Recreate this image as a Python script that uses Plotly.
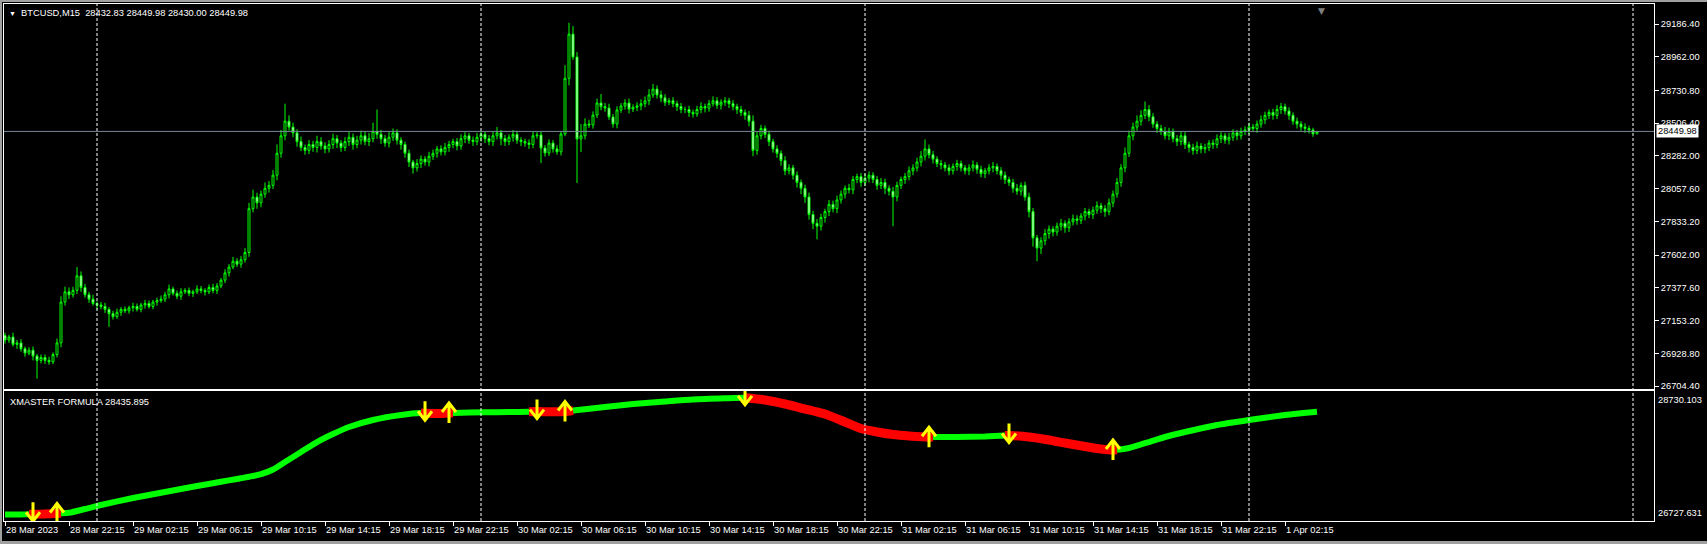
import pandas as pd
import plotly.graph_objects as go

# ---------------- data ----------------
start_time = "2023-03-28 18:15"
first_open = 27050

close = [
    27020, 27040, 26990, 27000, 26960, 26930, 26950, 26910, 26880, 26900,
    26880, 26870, 26920, 27000, 27280, 27350, 27330, 27360, 27460, 27380,
    27330, 27300, 27270, 27260, 27250, 27230, 27200, 27180, 27210, 27230,
    27220, 27240, 27250, 27230, 27260, 27270, 27250, 27280, 27290, 27300,
    27330, 27370, 27340, 27320, 27350, 27360, 27340, 27350, 27370, 27360,
    27350, 27380, 27360, 27390, 27430, 27480, 27520, 27560, 27540, 27570,
    27620, 27920, 28000, 27960, 28020, 28060, 28080, 28150, 28300, 28420,
    28520, 28480, 28440, 28380, 28340, 28320, 28360, 28340, 28380, 28350,
    28330, 28360, 28400, 28370, 28340, 28380, 28410, 28360, 28390, 28420,
    28380, 28400, 28450, 28430, 28400, 28370, 28410, 28440, 28390, 28360,
    28300, 28240, 28200, 28230, 28260, 28240, 28280, 28300, 28330, 28310,
    28340, 28360, 28380, 28350, 28400, 28420, 28390, 28380, 28410, 28430,
    28400, 28380, 28420, 28440, 28400, 28380, 28410, 28430, 28390, 28380,
    28370, 28360, 28420, 28425, 28336, 28302, 28370, 28330, 28310, 28432,
    28814, 29117, 28960, 28398, 28420, 28500, 28494, 28562, 28645, 28620,
    28610, 28549, 28501, 28597, 28624, 28645, 28603, 28615, 28625, 28640,
    28660, 28700, 28740, 28700, 28680, 28650, 28660, 28640, 28620, 28600,
    28600, 28580, 28570, 28600, 28620, 28610, 28640, 28660, 28630, 28650,
    28660, 28640, 28620, 28600, 28580, 28560, 28520, 28320, 28420, 28470,
    28430, 28380, 28330, 28300, 28250, 28180, 28200, 28150, 28100, 28060,
    28000, 27880, 27820, 27800, 27860, 27900, 27950, 27920, 27980, 28020,
    28060, 28050, 28120, 28140, 28100, 28130, 28150, 28120, 28080, 28100,
    28060, 28040, 28000, 28080, 28120, 28140, 28180, 28200, 28240, 28280,
    28330, 28290, 28260, 28230, 28220, 28200, 28180, 28210, 28230, 28200,
    28180, 28200, 28220, 28190, 28160, 28180, 28200, 28210, 28180, 28150,
    28120, 28100, 28060, 28040, 28080, 28000, 27900, 27720, 27650, 27700,
    27750, 27780, 27760, 27800, 27820, 27790, 27830, 27850, 27840, 27870,
    27900, 27880, 27910, 27940, 27920, 27900, 27960, 28020, 28100, 28200,
    28300, 28420, 28480, 28520, 28560, 28600, 28550, 28500, 28470, 28450,
    28420, 28450, 28400, 28380, 28420, 28360, 28340, 28320, 28350, 28330,
    28340, 28370, 28360, 28400, 28420, 28390, 28410, 28440, 28420, 28450,
    28460, 28480, 28470, 28500, 28530, 28560, 28580, 28560, 28600, 28620,
    28590, 28560, 28520, 28500, 28480, 28470, 28460, 28432.83, 28449.98,
]

up_wick = [
    20, 15, 30, 20, 25, 15, 20, 25, 15, 20,
    20, 25, 15, 30, 40, 35, 30, 25, 60, 30,
    25, 20, 30, 15, 20, 25, 15, 20, 25, 15,
    20, 15, 25, 20, 15, 25, 20, 15, 20, 25,
    20, 30, 15, 20, 25, 15, 20, 15, 25, 20,
    15, 20, 25, 20, 15, 25, 20, 30, 20, 25,
    30, 40, 50, 30, 25, 40, 30, 35, 60, 40,
    120, 40, 30, 25, 35, 20, 30, 25, 40, 30,
    25, 30, 35, 25, 20, 30, 40, 25, 30, 35,
    30, 40, 60, 150, 30, 25, 35, 30, 25, 20,
    20, 25, 15, 30, 25, 20, 30, 25, 20, 25,
    30, 25, 20, 25, 30, 25, 20, 25, 30, 25,
    20, 25, 30, 40, 20, 25, 20, 30, 25, 20,
    20, 25, 30, 20, 25, 20, 25, 20, 25, 20,
    90, 78, 55, 34, 80, 40, 30, 25, 30, 61,
    25, 30, 20, 25, 20, 25, 30, 20, 25, 30,
    30, 40, 35, 25, 30, 25, 20, 25, 20, 25,
    20, 25, 20, 25, 30, 20, 25, 30, 25, 20,
    25, 20, 25, 20, 25, 20, 30, 40, 30, 25,
    20, 25, 20, 25, 20, 30, 25, 20, 25, 20,
    25, 30, 25, 30, 25, 20, 30, 25, 30, 25,
    20, 30, 25, 20, 25, 30, 25, 20, 25, 30,
    25, 20, 30, 25, 20, 25, 30, 25, 30, 35,
    65, 30, 25, 20, 25, 20, 25, 20, 25, 20,
    20, 25, 30, 20, 25, 20, 25, 30, 20, 25,
    25, 20, 25, 30, 20, 25, 30, 25, 20, 25,
    30, 25, 20, 25, 30, 20, 25, 30, 25, 20,
    25, 20, 25, 30, 20, 25, 30, 25, 30, 25,
    40, 35, 30, 40, 35, 55, 30, 25, 20, 25,
    30, 25, 20, 25, 30, 25, 20, 25, 30, 20,
    25, 20, 25, 30, 25, 20, 30, 25, 20, 25,
    25, 30, 20, 25, 30, 25, 20, 25, 30, 25,
    20, 25, 20, 25, 20, 25, 20, 15, 0,
]

dn_wick = [
    25, 20, 15, 30, 20, 25, 15, 30, 125, 20,
    25, 20, 15, 20, 30, 25, 30, 20, 25, 30,
    20, 25, 15, 30, 20, 25, 90, 20, 15, 25,
    15, 20, 25, 15, 20, 25, 15, 20, 25, 15,
    20, 25, 15, 20, 25, 15, 20, 25, 15, 20,
    25, 15, 20, 25, 15, 20, 25, 15, 20, 25,
    20, 30, 25, 40, 30, 25, 30, 25, 35, 30,
    30, 25, 30, 35, 25, 30, 25, 30, 35, 25,
    30, 25, 30, 35, 30, 25, 30, 35, 25, 30,
    25, 30, 25, 30, 35, 25, 30, 25, 30, 35,
    30, 35, 40, 25, 30, 25, 30, 25, 30, 25,
    25, 30, 25, 30, 25, 30, 25, 30, 25, 30,
    30, 25, 30, 25, 45, 30, 25, 30, 25, 30,
    25, 30, 25, 20, 103, 25, 20, 25, 20, 25,
    15, 48, 20, 302, 90, 25, 20, 25, 20, 25,
    25, 20, 25, 30, 20, 25, 30, 20, 25, 30,
    25, 30, 20, 25, 30, 25, 20, 25, 30, 25,
    25, 30, 25, 20, 25, 30, 25, 20, 25, 30,
    25, 30, 25, 30, 25, 30, 35, 40, 30, 25,
    25, 30, 25, 30, 35, 30, 25, 30, 35, 40,
    40, 35, 40, 90, 30, 35, 30, 25, 30, 25,
    30, 25, 30, 25, 30, 25, 30, 25, 30, 25,
    40, 30, 200, 30, 25, 30, 25, 30, 25, 30,
    30, 25, 30, 25, 30, 25, 30, 25, 30, 25,
    25, 30, 25, 30, 25, 30, 25, 30, 25, 30,
    30, 25, 30, 25, 30, 25, 40, 60, 90, 40,
    30, 35, 30, 25, 30, 35, 30, 25, 30, 25,
    30, 25, 30, 25, 30, 35, 25, 30, 25, 30,
    30, 25, 30, 25, 30, 25, 30, 25, 30, 25,
    25, 30, 25, 30, 25, 30, 35, 30, 25, 30,
    30, 25, 30, 25, 30, 25, 30, 25, 30, 25,
    25, 30, 25, 30, 25, 30, 25, 30, 25, 30,
    25, 30, 25, 30, 25, 30, 25, 20, 2.83,
]

# indicator (XMASTER FORMULA) values at bar indices
ind_bars = [0, 4, 6, 7, 10, 13, 14, 16, 20, 24, 32, 40, 48, 54, 58, 61, 64, 67, 70, 74, 78, 82,
            86, 92, 99, 104, 105, 108, 111, 112, 120, 126, 131, 133, 136, 140, 142, 150,
            157, 165, 172, 180, 185, 190, 195, 199, 205, 210, 214, 218, 222, 226, 231,
            232, 238, 245, 250, 251, 256, 261, 265, 270, 274, 277, 278, 281, 286, 290,
            295, 303, 311, 320, 324, 328]
ind_vals = [26814.0, 26815.6, 26817.2, 26818.8, 26821.9, 26829.8, 26833.0, 26840.9,
            26900.8, 26963.9, 27074.2, 27168.9, 27263.5, 27330.0, 27375.0, 27410.0,
            27450.0, 27523.7,
            27642.0, 27799.7, 27957.4, 28083.5, 28193.9, 28304.3, 28383.2, 28413.1,
            28411.5, 28406.8, 28414.7, 28416.3, 28425.7, 28430.5, 28433.6, 28436.8,
            28435.2, 28438.4, 28454.1, 28509.3, 28556.6, 28596.1, 28627.6, 28646.5,
            28654.4, 28619.7, 28556.6, 28493.5, 28398.9, 28272.8, 28170.3, 28115.1,
            28075.6, 28052.0, 28033.1, 28034.6, 28036.2, 28044.1, 28058.3, 28059.9,
            28036.2, 27988.9, 27941.6, 27886.4, 27847.0, 27831.2, 27834.4, 27862.7,
            27957.4, 28036.2, 28115.1, 28225.5, 28304.3, 28383.2, 28410.0, 28435.895]
red_ranges = [(6, 14), (104, 112), (131, 142), (185, 232), (250, 278)]
down_arrow_bars = [7, 105, 133, 185, 251]
up_arrow_bars = [13, 111, 140, 231, 277]
ind_max = 28730.103
ind_min = 26727.631

price_ticks = [29186.40, 28962.00, 28730.80, 28506.40, 28282.00, 28057.60,
               27833.20, 27602.00, 27377.60, 27153.20, 26928.80, 26704.40]
symbol = "BTCUSD,M15"

# ---------------- build ----------------
W, H = 1707, 544
L, R, T, B = 4, 53, 4, 23
PW, PH = W - L - R, H - T - B

bar = pd.Timedelta(minutes=15)
t0 = pd.Timestamp(start_time)
times = pd.date_range(start_time, periods=len(close), freq="15min")
opens = [first_open] + close[:-1]
high = [max(o, c) + u for o, c, u in zip(opens, close, up_wick)]
low = [min(o, c) - d for o, c, d in zip(opens, close, dn_wick)]

ind_x = [t0 + b * bar for b in ind_bars]
ind_map = dict(zip(ind_bars, ind_vals))

x_range = [t0 - 0.25 * bar, t0 + 412.25 * bar]

tick_idx = list(range(0, len(close), 16))
tick_vals = [times[i] for i in tick_idx]
tick_text = []
for k, i in enumerate(tick_idx):
    d = times[i]
    if k == 0:
        tick_text.append(f"{d.day} {d:%b %Y}")
    else:
        tick_text.append(f"{d.day} {d:%b %H:%M}")

FONT = "Liberation Sans"
FS = 9.3
GREEN = "#00FF00"
YELLOW = "#FFFF00"

fig = go.Figure()
fig.add_trace(go.Candlestick(
    x=times, open=opens, high=high, low=low, close=close,
    increasing=dict(line=dict(color=GREEN, width=1), fillcolor="black"),
    decreasing=dict(line=dict(color=GREEN, width=1), fillcolor="white"),
    whiskerwidth=0, xaxis="x", yaxis="y", showlegend=False,
))

fig.add_trace(go.Scatter(x=ind_x, y=ind_vals, mode="lines",
                         line=dict(color=GREEN, width=6, shape="spline", smoothing=0.6),
                         xaxis="x2", yaxis="y2", showlegend=False))
for s, e in red_ranges:
    xs = [x for b, x in zip(ind_bars, ind_x) if s <= b <= e]
    ys = [v for b, v in zip(ind_bars, ind_vals) if s <= b <= e]
    fig.add_trace(go.Scatter(x=xs, y=ys, mode="lines",
                             line=dict(color="#FF0000", width=9, shape="spline", smoothing=0.6),
                             xaxis="x2", yaxis="y2", showlegend=False))

main_bottom = (PH - (389 - T)) / PH
ind_top = (PH - (391 - T)) / PH
scale = (29186.40 - 26704.40) / (386 - 24)  # price per pixel
y_top = 29186.40 + (24 - T) * scale
y_bot = 26704.40 - (389 - 386) * scale

ind_scale = (ind_max - ind_min) / (520 - 393)
y2_top = ind_max + (393 - 391) * ind_scale
y2_bot = ind_max - (521 - 393) * ind_scale

axis_common = dict(showgrid=False, zeroline=False, showline=True, mirror=True,
                   linecolor="white", linewidth=1)

fig.update_layout(
    width=W, height=H,
    margin=dict(l=L, r=R, t=T, b=B, pad=0),
    paper_bgcolor="black", plot_bgcolor="black",
    showlegend=False,
    font=dict(family=FONT, size=FS, color="white"),
    xaxis=dict(domain=[0, 1], anchor="y", range=x_range, showticklabels=False,
               ticks="", rangeslider=dict(visible=False), **axis_common),
    yaxis=dict(domain=[main_bottom, 1], anchor="x", side="right", range=[y_bot, y_top],
               tickvals=price_ticks, ticktext=[f"{v:.2f}" for v in price_ticks],
               ticks="outside", ticklen=4, tickcolor="white",
               tickfont=dict(family=FONT, size=FS, color="white"), **axis_common),
    xaxis2=dict(domain=[0, 1], anchor="y2", matches="x", range=x_range,
                tickvals=tick_vals, ticktext=tick_text, ticks="outside", ticklen=4,
                tickcolor="white", ticklabelposition="outside right",
                tickfont=dict(family=FONT, size=FS, color="white"), **axis_common),
    yaxis2=dict(domain=[0, ind_top], anchor="x2", side="right", range=[y2_bot, y2_top],
                showticklabels=False, ticks="", **axis_common),
)

shapes = []
# day separators
for d in pd.date_range(times[0].normalize() + pd.Timedelta(days=1), periods=5, freq="D"):
    shapes.append(dict(type="line", xref="x", yref="paper", x0=d, x1=d, y0=0, y1=1,
                       line=dict(color="white", width=1, dash="3px,2px"), layer="above"))
# current price line
shapes.append(dict(type="line", xref="x domain", yref="y", x0=0, x1=1,
                   y0=close[-1], y1=close[-1], line=dict(color="#778899", width=1)))

# signal arrows: glyph drawn in pixels, anchored at the indicator value of the bar
DOWN_GLYPH = "M0,12 L0,-7 M-7,2 L0,-7 L7,2"
UP_GLYPH = "M0,-10 L0,10 M-7,1 L0,10 L7,1"
for bars_, glyph in ((down_arrow_bars, DOWN_GLYPH), (up_arrow_bars, UP_GLYPH)):
    for b in bars_:
        shapes.append(dict(type="path", xref="x2", yref="y2",
                           xsizemode="pixel", ysizemode="pixel",
                           xanchor=(t0 + b * bar).strftime("%Y-%m-%d %H:%M:%S"),
                           yanchor=ind_map[b], path=glyph,
                           line=dict(color=YELLOW, width=3), layer="above"))

# window frame strips (grey)
def px_x(p):
    return (p - L) / PW
def px_y(p):
    return (H - B - p) / PH
for (x0, x1, y0, y1) in [(0, 2, 0, H), (0, W, 0, 2), (0, W, H - 3, H)]:
    shapes.append(dict(type="rect", xref="paper", yref="paper",
                       x0=px_x(x0), x1=px_x(x1), y0=px_y(y1), y1=px_y(y0),
                       fillcolor="#a0a0a0", line=dict(width=0), layer="above"))
fig.update_layout(shapes=shapes)

annotations = [
    dict(xref="paper", yref="paper", x=0, y=1, xanchor="left", yanchor="top",
         xshift=3, yshift=-2, showarrow=False,
         text=f"<span style='font-size:7px'>▼</span>\u00a0\u00a0{symbol}\u00a0\u00a0"
              f"{opens[-1]:.2f} {high[-1]:.2f} {low[-1]:.2f} {close[-1]:.2f}",
         font=dict(family=FONT, size=FS, color="white")),
    dict(xref="paper", yref="y", x=1, y=close[-1], xanchor="left", yanchor="middle",
         xshift=2, showarrow=False, text=f"{close[-1]:.2f}", bgcolor="white",
         borderpad=1, font=dict(family=FONT, size=FS, color="black")),
    dict(xref="paper", yref="y2 domain", x=0, y=1, xanchor="left", yanchor="top",
         xshift=4, yshift=-4, showarrow=False,
         text=f"XMASTER FORMULA {ind_vals[-1]:.3f}",
         font=dict(family=FONT, size=FS, color="white")),
    dict(xref="paper", yref="y2", x=1, y=ind_max, xanchor="left", yanchor="top",
         xshift=2, showarrow=False, text=f"{ind_max:.3f}",
         font=dict(family=FONT, size=FS, color="white")),
    dict(xref="paper", yref="y2", x=1, y=ind_min, xanchor="left", yanchor="bottom",
         xshift=2, showarrow=False, text=f"{ind_min:.3f}",
         font=dict(family=FONT, size=FS, color="white")),
    dict(xref="x", yref="paper", x=times[-1] + bar, y=1, xanchor="center", yanchor="top",
         showarrow=False, text="▼", font=dict(family="DejaVu Sans", size=9, color="#808080")),
]
fig.update_layout(annotations=annotations)

fig.write_html("out.html", config={"displayModeBar": False},
               post_script="document.body.style.margin='0';document.body.style.background='black';")
